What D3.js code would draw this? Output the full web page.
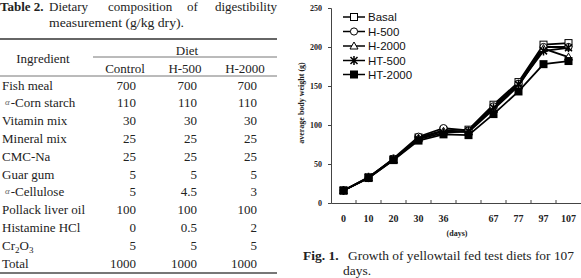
<!DOCTYPE html>
<html><head><meta charset="utf-8">
<script src="https://cdn.jsdelivr.net/npm/d3@7"></script>
<style>
html,body{margin:0;padding:0;background:#fff;}
svg{display:block;}
</style></head>
<body>
<svg id="c" width="581" height="278"></svg>
<script>
// ---------- Table data ----------
const tableColumns = ["Control", "H-500", "H-2000"];
const ingredients = ["Fish meal", "-Corn starch", "Vitamin mix", "Mineral mix", "CMC-Na", "Guar gum", "-Cellulose", "Pollack liver oil", "Histamine HCl", "Cr2O3", "Total"];
const controlValues = ["700", "110", "30", "25", "25", "5", "5", "100", "0", "5", "1000"];
const h500Values = ["700", "110", "30", "25", "25", "5", "4.5", "100", "0.5", "5", "1000"];
const h2000Values = ["700", "110", "30", "25", "25", "5", "3", "100", "2", "5", "1000"];

// ---------- Chart data ----------
const dayLabels = ["0", "10", "20", "30", "36", "", "67", "77", "97", "107"];
const seriesNames = ["Basal", "H-500", "H-2000", "HT-500", "HT-2000"];
const basal  = [16, 33, 56, 84, 93, 94, 126, 155, 203, 205];
const h500   = [16, 32, 57, 85, 96, 93, 124, 153, 200, 200];
const h2000  = [16, 32, 55, 83, 92, 91, 120, 150, 198, 187];
const ht500  = [16, 33, 56, 82, 90, 92, 122, 152, 195, 199];
const ht2000 = [16, 32, 55, 80, 88, 87, 114, 143, 178, 182];
const yTicks = [0, 50, 100, 150, 200, 250];

const svg = d3.select("#c");
const serif = "'Liberation Serif', 'Times New Roman', serif";
const sans = "'Liberation Sans', Arial, sans-serif";

// ================= TABLE =================
const T = svg.append("g").attr("font-family", serif).attr("fill", "#222");
// title line 1 (justified)
T.append("text").attr("x", 0).attr("y", 10.5).attr("font-size", 13).attr("font-weight", "bold").text("Table 2.");
const titleWords = [["Dietary", 49], ["composition", 108], ["of", 187], ["digestibility", 215]];
T.selectAll("text.tw").data(titleWords).join("text").attr("class", "tw")
  .attr("x", d => d[0] === "digestibility" ? 277 : d[1])
  .attr("text-anchor", d => d[0] === "digestibility" ? "end" : "start")
  .attr("y", 10.5).attr("font-size", 13).text(d => d[0]);
T.append("text").attr("x", 49).attr("y", 26.5).attr("font-size", 13)
  .attr("textLength", 135).attr("lengthAdjust", "spacingAndGlyphs").text("measurement (g/kg dry).");

// rules
const rule = (x1, x2, y, w, c) => T.append("line").attr("x1", x1).attr("x2", x2).attr("y1", y).attr("y2", y)
  .attr("stroke", c).attr("stroke-width", w);
rule(0, 277, 39, 2, "#666");
rule(93, 277, 57, 1, "#777");
rule(0, 277, 76, 1, "#777");
rule(0, 277, 273, 2, "#777");

T.append("text").attr("x", 187).attr("y", 54.5).attr("text-anchor", "middle").attr("font-size", 13).text("Diet");
T.append("text").attr("x", 43).attr("y", 62.5).attr("text-anchor", "middle").attr("font-size", 13).text("Ingredient");
const colCenters = [125, 185, 245];
const colRight = [136, 197, 257];
T.selectAll("text.ch").data(tableColumns).join("text").attr("class", "ch")
  .attr("x", (d, i) => colCenters[i]).attr("y", 72.5).attr("text-anchor", "middle").attr("font-size", 13).text(d => d);

const rowY = i => 85 + i * 17.8 + 4.5;
ingredients.forEach((name, i) => {
  const t = T.append("text").attr("x", 2).attr("y", rowY(i)).attr("font-size", 13);
  if (name === "-Corn starch" || name === "-Cellulose") {
    t.attr("x", 5);
    t.append("tspan").attr("font-size", 9).attr("font-style", "italic").attr("fill", "#666").attr("dy", -2).text("α");
    t.append("tspan").attr("dy", 2).attr("dx", 1).text(name);
  } else if (name === "Cr2O3") {
    t.append("tspan").text("Cr");
    t.append("tspan").attr("font-size", 9).attr("dy", 3).text("2");
    t.append("tspan").attr("dy", -3).text("O");
    t.append("tspan").attr("font-size", 9).attr("dy", 3).text("3");
  } else {
    t.text(name);
  }
});
[controlValues, h500Values, h2000Values].forEach((vals, c) => {
  T.selectAll("text.v" + c).data(vals).join("text").attr("class", "v" + c)
    .attr("x", colRight[c]).attr("y", (d, i) => rowY(i)).attr("text-anchor", "end").attr("font-size", 13).text(d => d);
});

// ================= CHART =================
const allSeries = [basal, h500, h2000, ht500, ht2000];
const x = d3.scaleBand().domain(d3.range(dayLabels.length)).range([331, 581]).padding(0);
const y = d3.scaleLinear().domain([0, 250]).range([203, 8]);
const C = svg.append("g");

// y axis
const yAxis = d3.axisLeft(y).tickValues(yTicks).tickSize(3).tickPadding(6);
const gy = C.append("g").attr("transform", "translate(331,0)").call(yAxis);
gy.select(".domain").attr("stroke", "#444").attr("stroke-width", 1);
gy.selectAll(".tick line").attr("stroke", "#444");
gy.selectAll(".tick text").attr("font-family", serif).attr("font-weight", "bold").attr("font-size", 8).attr("fill", "#222");

// x axis
const xAxis = d3.axisBottom(x).tickFormat(i => dayLabels[i]).tickSize(0).tickPadding(12);
const gx = C.append("g").attr("transform", "translate(0,203)").call(xAxis);
gx.select(".domain").attr("stroke", "#444").attr("stroke-width", 1);
gx.selectAll(".tick text").attr("font-family", serif).attr("font-weight", "bold").attr("font-size", 10).attr("fill", "#222");
// band boundary ticks (upward)
gx.selectAll("line.bt").data(d3.range(1, dayLabels.length)).join("line").attr("class", "bt")
  .attr("x1", i => x(i)).attr("x2", i => x(i)).attr("y1", 0).attr("y2", -3).attr("stroke", "#444");

C.append("text").attr("x", 457).attr("y", 236).attr("text-anchor", "middle").attr("font-family", serif)
  .attr("font-weight", "bold").attr("font-size", 8).attr("fill", "#222").text("(days)");
C.append("text").attr("transform", "translate(304,103) rotate(-90)").attr("text-anchor", "middle").attr("font-family", serif)
  .attr("font-weight", "bold").attr("font-size", 8).attr("fill", "#222").text("average body weight (g)");

// markers
function drawMarker(g, k, cx, cy) {
  if (k === 0) g.append("rect").attr("x", cx - 3.5).attr("y", cy - 3.5).attr("width", 7).attr("height", 7).attr("fill", "#fff").attr("stroke", "#000").attr("stroke-width", 1);
  if (k === 1) g.append("circle").attr("cx", cx).attr("cy", cy).attr("r", 3.6).attr("fill", "#fff").attr("stroke", "#000").attr("stroke-width", 1);
  if (k === 2) g.append("path").attr("d", `M${cx},${cy - 4}L${cx + 4},${cy + 3}L${cx - 4},${cy + 3}Z`).attr("fill", "#fff").attr("stroke", "#000").attr("stroke-width", 1);
  if (k === 3) g.append("path").attr("d", `M${cx - 3.5},${cy - 3.5}L${cx + 3.5},${cy + 3.5}M${cx + 3.5},${cy - 3.5}L${cx - 3.5},${cy + 3.5}M${cx},${cy - 4.5}L${cx},${cy + 4.5}`).attr("fill", "none").attr("stroke", "#000").attr("stroke-width", 1.5);
  if (k === 4) g.append("rect").attr("x", cx - 4).attr("y", cy - 4).attr("width", 8).attr("height", 8).attr("fill", "#000");
}

const line = d3.line().x((d, i) => x(i) + x.bandwidth() / 2).y(d => y(d));
allSeries.forEach((vals, k) => {
  const g = C.append("g");
  g.append("path").datum(vals).attr("d", line).attr("fill", "none").attr("stroke", "#000").attr("stroke-width", 1.8);
  vals.forEach((v, i) => drawMarker(g, k, x(i) + x.bandwidth() / 2, y(v)));
});

// legend
const legY = [17, 31.5, 46, 60.5, 74.5];
seriesNames.forEach((name, k) => {
  const g = C.append("g");
  g.append("line").attr("x1", 343).attr("x2", 365).attr("y1", legY[k]).attr("y2", legY[k]).attr("stroke", "#000").attr("stroke-width", 1.5);
  drawMarker(g, k, 354, legY[k]);
  g.append("text").attr("x", 368).attr("y", legY[k] + 4.2).attr("font-family", sans).attr("font-size", 11.5).attr("fill", "#111").text(name);
});

// caption
const cap = svg.append("g").attr("font-family", serif).attr("fill", "#222").attr("font-size", 13.5);
cap.append("text").attr("x", 303).attr("y", 259.5).attr("font-weight", "bold").text("Fig. 1.");
cap.append("text").attr("x", 348).attr("y", 259.5).attr("textLength", 226).attr("lengthAdjust", "spacingAndGlyphs")
  .text("Growth of yellowtail fed test diets for 107");
cap.append("text").attr("x", 343).attr("y", 274.5).text("days.");
</script>
</body></html>
